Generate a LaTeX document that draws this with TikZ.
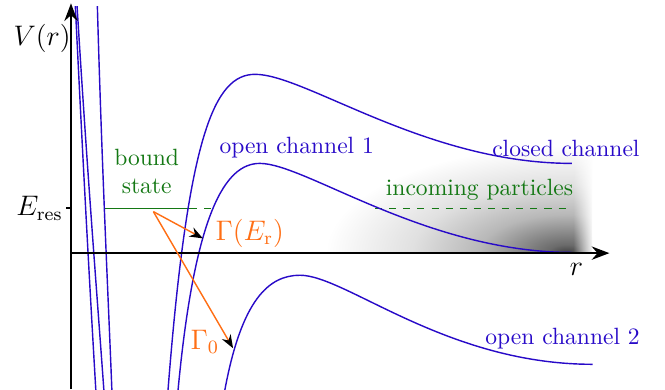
\documentclass[tikz,border=0pt]{standalone}
\usepackage{amsmath}
\usepackage{tikz}
\usetikzlibrary{arrows.meta,positioning,fadings}
\usepackage{xcolor}

\definecolor{chanblue}{RGB}{40,10,200}
\definecolor{rateorange}{RGB}{255,110,20}
\definecolor{stategreen}{RGB}{20,120,20}

\pgfdeclareradialshading{tailshade}{\pgfpoint{0bp}{0bp}}{%
  color(0bp)=(black!75); color(2bp)=(black!58); color(9bp)=(black!28);
  color(16bp)=(black!12); color(25bp)=(white); color(50bp)=(white)}
\tikzfading[name=fade in right, left color=transparent!100, right color=transparent!0]

\begin{document}
\begin{tikzpicture}[
  >=Stealth,
  axis/.style={line width=1pt, ->},
  channel/.style={draw=chanblue, semithick},
  level/.style={stategreen, semithick},
  rate/.style={rateorange, semithick, -{Stealth[black]}},
  chanlabel/.style={text=chanblue},
  statelabel/.style={text=stategreen, align=center},
  ratelabel/.style={text=rateorange, font=\large},
  axislabel/.style={font=\large}
]
\useasboundingbox (-1.06,-2.03) rectangle (8.87,3.78);

% Shading of the incoming flux
\begin{scope}
  \clip (3.0,0) rectangle (7.78,1.6);
  \shade[shading=tailshade] (7.4,0) ellipse (3.6 and 1.6);
\end{scope}
\fill[white, path fading=fade in right] (7.5,0.02) rectangle (7.8,1.6);

% Bound state and incoming particles
\coordinate (bsL) at (0.49,0.67);
\coordinate (bsM) at (1.78,0.67);
\coordinate (bsR) at (2.15,0.67);
\coordinate (inL) at (4.54,0.67);
\coordinate (inR) at (7.48,0.67);
\draw[level] (bsL) -- (bsM);
\draw[level, dashed] (bsM) -- (bsR);
\draw[level, dashed] (inL) -- (inR);

% Potential curves
\begin{scope}
  \clip (-1.06,-2.03) rectangle (8.87,3.69);
  % closed channel
  \draw[channel] (0.04,4.2) .. controls (0.17,1.5) and (0.28,-0.5) .. (0.37,-2.03)
    .. controls (0.46,-3.5) and (1.35,-3.5) .. (1.45,-2.03)
    .. controls (1.75,1.8) and (2.15,2.67) .. (2.75,2.67)
    .. controls (3.5,2.67) and (5.3,1.34) .. (7.48,1.34);
  % open channel 1
  \draw[channel] (0.06,4.2) .. controls (0.22,1.5) and (0.38,-0.5) .. (0.49,-2.03)
    .. controls (0.6,-3.5) and (1.46,-3.5) .. (1.60,-2.03)
    .. controls (1.85,0.6) and (2.3,1.34) .. (2.82,1.34)
    .. controls (3.5,1.34) and (5.3,0.01) .. (7.49,0.01);
  % open channel 2
  \draw[channel] (0.38,4.2) .. controls (0.45,1.5) and (0.55,-0.5) .. (0.61,-2.03)
    .. controls (0.68,-3.8) and (2.05,-3.4) .. (2.30,-2.03)
    .. controls (2.55,-0.7) and (2.95,-0.33) .. (3.42,-0.33)
    .. controls (4.1,-0.33) and (5.6,-1.66) .. (7.79,-1.66);
\end{scope}

% Axes
\coordinate (O) at (0,0);
\coordinate (ybot) at (0,-2.03);
\coordinate (ytop) at (0,3.73);
\coordinate (xend) at (8.04,0);
\coordinate (eres) at (0,0.67);
\draw[axis] (ybot) -- (ytop);
\draw[axis] (O) -- (xend);
\draw[line width=1pt] (eres) -- ++(-0.07,0);

\node[axislabel] (vlab) at (-0.43,3.21) {$V(r)$};
\node[axislabel] (rlab) at (7.55,-0.25) {$r$};
\node[axislabel, left=0pt of eres] (ereslab) {$E_{\mathrm{res}}$};

% Decay rates
\coordinate (decay) at (1.23,0.62);
\coordinate (toopen1) at (1.97,0.22);
\coordinate (toopen2) at (2.42,-1.42);
\draw[rate] (decay) -- (toopen1);
\draw[rate] (decay) -- (toopen2);
\node[ratelabel] (gammar) at (2.67,0.30) {$\Gamma(E_{\mathrm{r}})$};
\node[ratelabel] (gamma0) at (2.0,-1.33) {$\Gamma_0$};

% Labels
\node[statelabel] (bound) at (1.13,1.22) {bound\\state};
\node[statelabel] (incoming) at (6.10,0.94) {incoming particles};
\node[chanlabel] (open1) at (3.37,1.57) {open channel 1};
\node[chanlabel] (closed) at (7.39,1.57) {closed channel};
\node[chanlabel] (open2) at (7.34,-1.27) {open channel 2};

\end{tikzpicture}
\end{document}
